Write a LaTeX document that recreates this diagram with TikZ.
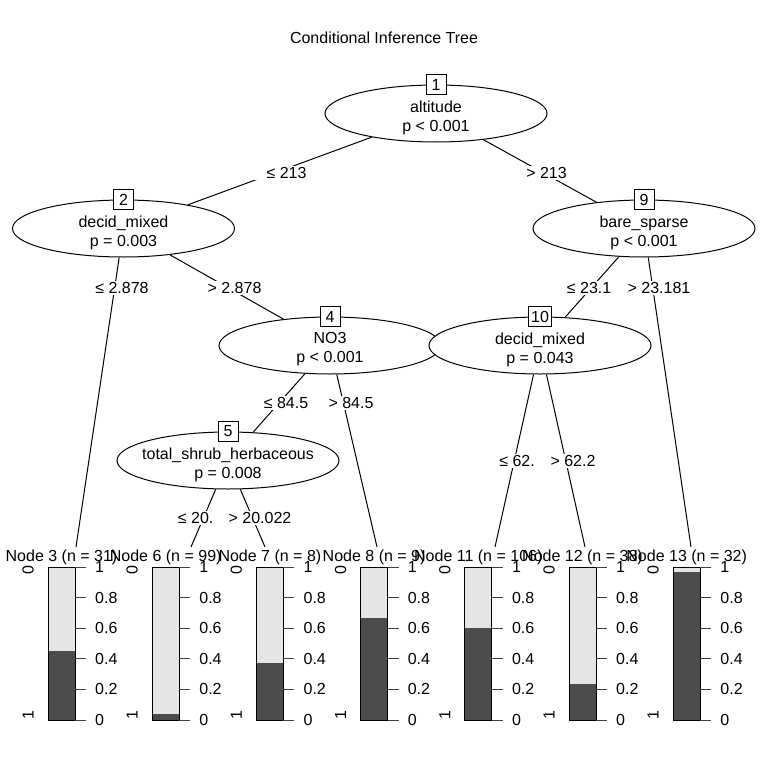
\documentclass[tikz,border=0pt]{standalone}
\usepackage{fontspec}
\setmainfont{Liberation Sans}
\usetikzlibrary{shapes.geometric}
\newcommand\treefont{\fontsize{16}{19}\selectfont}
\definecolor{bardark}{gray}{0.3}
\definecolor{barlight}{gray}{0.9}
\tikzset{
  splitnode/.style={ellipse, draw, fill=white, line width=1pt,
    minimum width=222pt, minimum height=57pt, inner sep=0pt},
  splittext/.style={align=center, inner sep=0pt, font=\treefont},
  idbox/.style={draw, fill=white, line width=1pt, minimum size=20pt,
    inner sep=3pt, font=\treefont},
  edgelab/.style={fill=white, inner xsep=16pt, inner ysep=1pt, font=\treefont},
  termlab/.style={inner sep=0pt, font=\treefont},
  ticklab/.style={anchor=west, inner sep=0pt, font=\treefont},
  edge/.style={line width=1pt}
}
\begin{document}
\begin{tikzpicture}[x=1pt,y=-1pt]
  \useasboundingbox[fill=white] (0,0) rectangle (768,768);
  \node[font=\treefont] (title) at (384,38) {Conditional Inference Tree};
  % inner nodes
  \foreach \nm/\xx/\yy/\var/\pv in {1/436/113.5/altitude/p < 0.001,
      2/123.5/228.5/decid\_mixed/p = 0.003, 9/644/228.5/bare\_sparse/p < 0.001,
      4/330/345.5/NO3/p < 0.001, 10/540/345.5/decid\_mixed/p = 0.043,
      5/228/460.5/total\_shrub\_herbaceous/p = 0.008}
    {
      \node[splitnode] (n\nm) at (\xx,\yy) {};
      \node[splittext] (t\nm) at ([yshift=-4pt]n\nm.center) {\var\\\pv};
      \node[idbox] (id\nm) at (n\nm.north) {\nm};
    }
  % terminal nodes
  \foreach \i/\tn/\nn/\frc/\ex in {0/3/31/0.452/76, 1/6/99/0.04/191,
      2/7/8/0.375/265, 3/8/9/0.667/377, 4/11/106/0.604/495,
      5/12/38/0.237/585, 6/13/32/0.969/691}
    {
      \pgfmathsetmacro\bx{48+104.2*\i}
      \coordinate (c\tn) at (\ex,547);
      \node[termlab] (lab\tn) at (\bx+13.5,557) {Node \tn\ (n = \nn)};
      \fill[barlight] (\bx,567) rectangle (\bx+27,720);
      \fill[bardark] (\bx,720-153*\frc) rectangle (\bx+27,720);
      \draw[line width=0.8pt] (\bx,567) rectangle (\bx+27,720);
      \foreach \k/\tl in {0/0,1/0.2,2/0.4,3/0.6,4/0.8,5/1}
        {
          \draw[line width=1pt, black!75] (\bx+27,720-30.6*\k) -- (\bx+38,720-30.6*\k);
          \node[ticklab] (tk\tn-\k) at (\bx+47,720-30.6*\k) {\tl};
        }
      \node[termlab, rotate=90] (lz\tn) at (\bx-20,570) {0};
      \node[termlab, rotate=90] (lo\tn) at (\bx-20,715) {1};
    }
  % edges
  \draw[edge] (n1) -- (n2);
  \draw[edge] (n1) -- (n9);
  \draw[edge] (n2) -- (c3);
  \draw[edge] (n2) -- (n4);
  \draw[edge] (n4) -- (n5);
  \draw[edge] (n4) -- (c8);
  \draw[edge] (n5) -- (c6);
  \draw[edge] (n5) -- (c7);
  \draw[edge] (n9) -- (n10);
  \draw[edge] (n9) -- (c13);
  \draw[edge] (n10) -- (c11);
  \draw[edge] (n10) -- (c12);
  % edge labels
  \node[edgelab] (e12) at (286.5,173) {≤ 213};
  \node[edgelab] (e19) at (546.5,173) {> 213};
  \node[edgelab] (e23) at (122,288) {≤ 2.878};
  \node[edgelab] (e24) at (234.5,288) {> 2.878};
  \node[edgelab] (e45) at (286,403) {≤ 84.5};
  \node[edgelab] (e48) at (351,403) {> 84.5};
  \node[edgelab] (e56) at (209,518) {≤ 20.022};
  \node[edgelab] (e57) at (260,518) {> 20.022};
  \node[edgelab] (e910) at (598,288) {≤ 23.181};
  \node[edgelab] (e913) at (659,288) {> 23.181};
  \node[edgelab] (e1011) at (521.5,461) {≤ 62.2};
  \node[edgelab] (e1012) at (573,461) {> 62.2};
\end{tikzpicture}
\end{document}
